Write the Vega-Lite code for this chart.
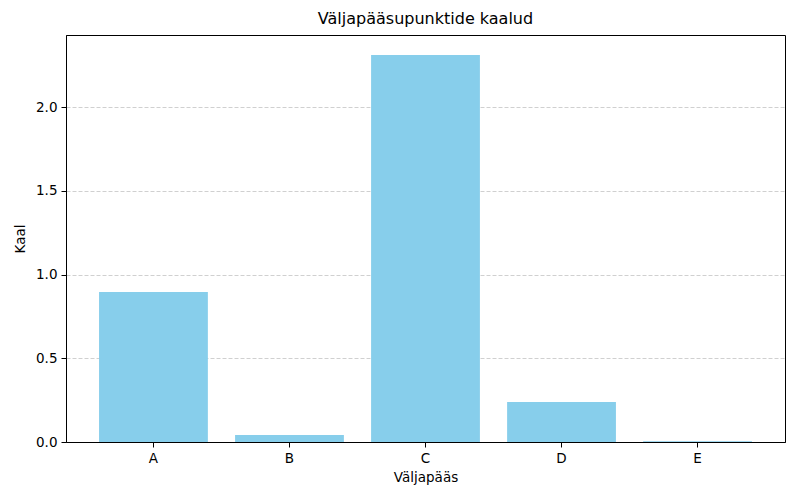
{
  "$schema": "https://vega.github.io/schema/vega-lite/v6.json",
  "autosize": "none",
  "width": 719,
  "height": 407,
  "padding": {"left": 66, "top": 35, "right": 15, "bottom": 58},
  "background": "white",
  "title": {
    "text": "Väljapääsupunktide kaalud",
    "font": "DejaVu Sans",
    "fontSize": 16,
    "fontWeight": "normal",
    "color": "black",
    "offset": 8
  },
  "data": {
    "values": [
      {"exit": "A", "weight": 0.896},
      {"exit": "B", "weight": 0.042},
      {"exit": "C", "weight": 2.313},
      {"exit": "D", "weight": 0.239},
      {"exit": "E", "weight": 0.004}
    ]
  },
  "mark": {"type": "bar", "color": "#87CEEB"},
  "encoding": {
    "x": {
      "field": "exit",
      "type": "nominal",
      "title": "Väljapääs",
      "scale": {"paddingInner": 0.2, "paddingOuter": 0.243},
      "axis": {"labelAngle": 0, "grid": false}
    },
    "y": {
      "field": "weight",
      "type": "quantitative",
      "title": "Kaal",
      "scale": {"domain": [0, 2.432], "nice": false},
      "axis": {
        "values": [0, 0.5, 1, 1.5, 2],
        "format": ".1f",
        "grid": true,
        "gridDash": [4, 2],
        "gridColor": "#c4c4c4",
        "gridWidth": 0.8,
        "titlePadding": 8
      }
    }
  },
  "config": {
    "view": {"stroke": "black", "strokeWidth": 1},
    "axis": {
      "labelFont": "DejaVu Sans",
      "labelFontSize": 13.5,
      "labelColor": "black",
      "titleFont": "DejaVu Sans",
      "titleFontSize": 13.5,
      "titleFontWeight": "normal",
      "titleColor": "black",
      "domainColor": "black",
      "tickColor": "black",
      "tickSize": 5,
      "labelPadding": 4,
      "titlePadding": 6
    }
  }
}
